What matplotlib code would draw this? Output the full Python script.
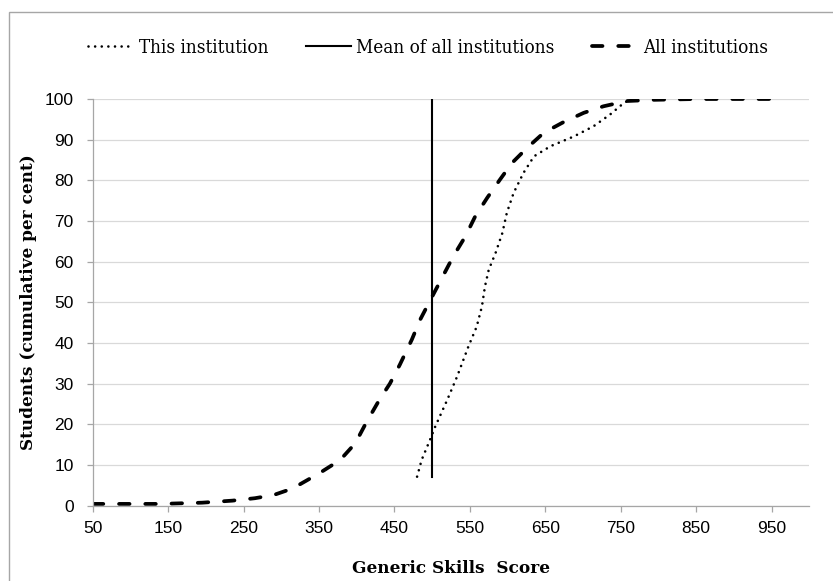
import matplotlib
matplotlib.use("Agg")
import matplotlib.pyplot as plt
from matplotlib.patches import Rectangle
from matplotlib.font_manager import FontProperties

# Cumulative distribution of scores
all_scores = [50, 100, 140, 195, 235, 265, 290, 315, 350, 378, 398, 412, 430,
              444, 457, 473, 484, 500, 513, 528, 544, 557, 573, 590, 606, 626,
              648, 674, 701, 727, 758, 794, 850, 966]
all_cum = [0.4, 0.4, 0.4, 0.7, 1.2, 1.8, 2.6, 4.2, 7.9, 11.2, 15.3, 20.2, 26,
           30, 34.6, 40.8, 45.7, 51.4, 56, 61.3, 66.2, 71.1, 75.7, 80.2, 84.3,
           88, 91.7, 94.3, 96.6, 98.2, 99.5, 99.8, 100, 100]

inst_scores = [480, 486, 497, 504, 520, 533, 548, 559, 566, 570, 575, 584,
               593, 599, 608, 621, 635, 657, 688, 714, 736, 754, 762]
inst_cum = [7.1, 11.2, 16.1, 19.4, 26, 31.7, 39.1, 44, 49, 53.9, 58, 62.1,
            67, 72, 76.9, 81.8, 85.9, 88.4, 90.8, 93.3, 96.2, 99, 99.8]

mean_score = 500
mean_span = [7, 100]

x_ticks = list(range(50, 1000, 100))
y_ticks = list(range(0, 101, 10))

serif = "DejaVu Serif"
grey = "#a6a6a6"

fig = plt.figure(figsize=(8.33, 5.81), dpi=100)
ax = fig.add_axes([0.1114, 0.1299, 0.8601, 0.6997])

ax.plot(inst_scores, inst_cum, color="black", lw=1.9,
        linestyle=(0, (0.01, 2.5)), dash_capstyle="round",
        label="This institution")
ax.plot([mean_score, mean_score], mean_span, color="black", lw=1.5,
        label="Mean of all institutions")
ax.plot(all_scores, all_cum, color="black", lw=2.7,
        linestyle=(0, (2.8, 4.2)), dash_capstyle="round",
        label="All institutions")

ax.set_xlim(50, 1000)
ax.set_ylim(0, 100)
ax.set_xticks(x_ticks)
ax.set_yticks(y_ticks)
ax.yaxis.grid(True, color="#d9d9d9", lw=0.9)
ax.set_axisbelow(True)

for side in ["top", "right"]:
    ax.spines[side].set_visible(False)
for side in ["left", "bottom"]:
    ax.spines[side].set_color(grey)
    ax.spines[side].set_linewidth(0.9)

ax.tick_params(axis="both", colors=grey, length=4.3, width=0.9,
               labelcolor="black", labelsize=12.5)
ax.tick_params(axis="y", pad=9.4)
ax.tick_params(axis="x", pad=6.6)
for lbl in ax.get_xticklabels() + ax.get_yticklabels():
    lbl.set_fontfamily("Liberation Sans")

title_font = FontProperties(family=serif, weight="bold", size=12.2)
ax.set_xlabel("Generic Skills  Score", fontproperties=title_font)
ax.xaxis.set_label_coords(0.5, -0.154)
ax.xaxis.label.set_va("center")
ax.set_ylabel("Students (cumulative per cent)", fontproperties=title_font)
ax.yaxis.set_label_coords(-0.0904, 0.5)
ax.yaxis.label.set_va("center")

leg_font = FontProperties(family=serif, stretch="condensed", size=13.5)
ax.legend(loc="center", bbox_to_anchor=(428 / 833, 1 - 48 / 581),
          bbox_transform=fig.transFigure, ncol=3, frameon=False,
          prop=leg_font, handlelength=2.4, handletextpad=0.3,
          columnspacing=2.0, borderpad=0)

# outer chart border (only left and top edges fall inside the picture)
fig.add_artist(Rectangle((9 / 833, -0.01), 1.0, 1 - 12 / 581 + 0.01,
                         transform=fig.transFigure, fill=False,
                         edgecolor=grey, lw=1.0))

fig.savefig("out.png", dpi=100)
